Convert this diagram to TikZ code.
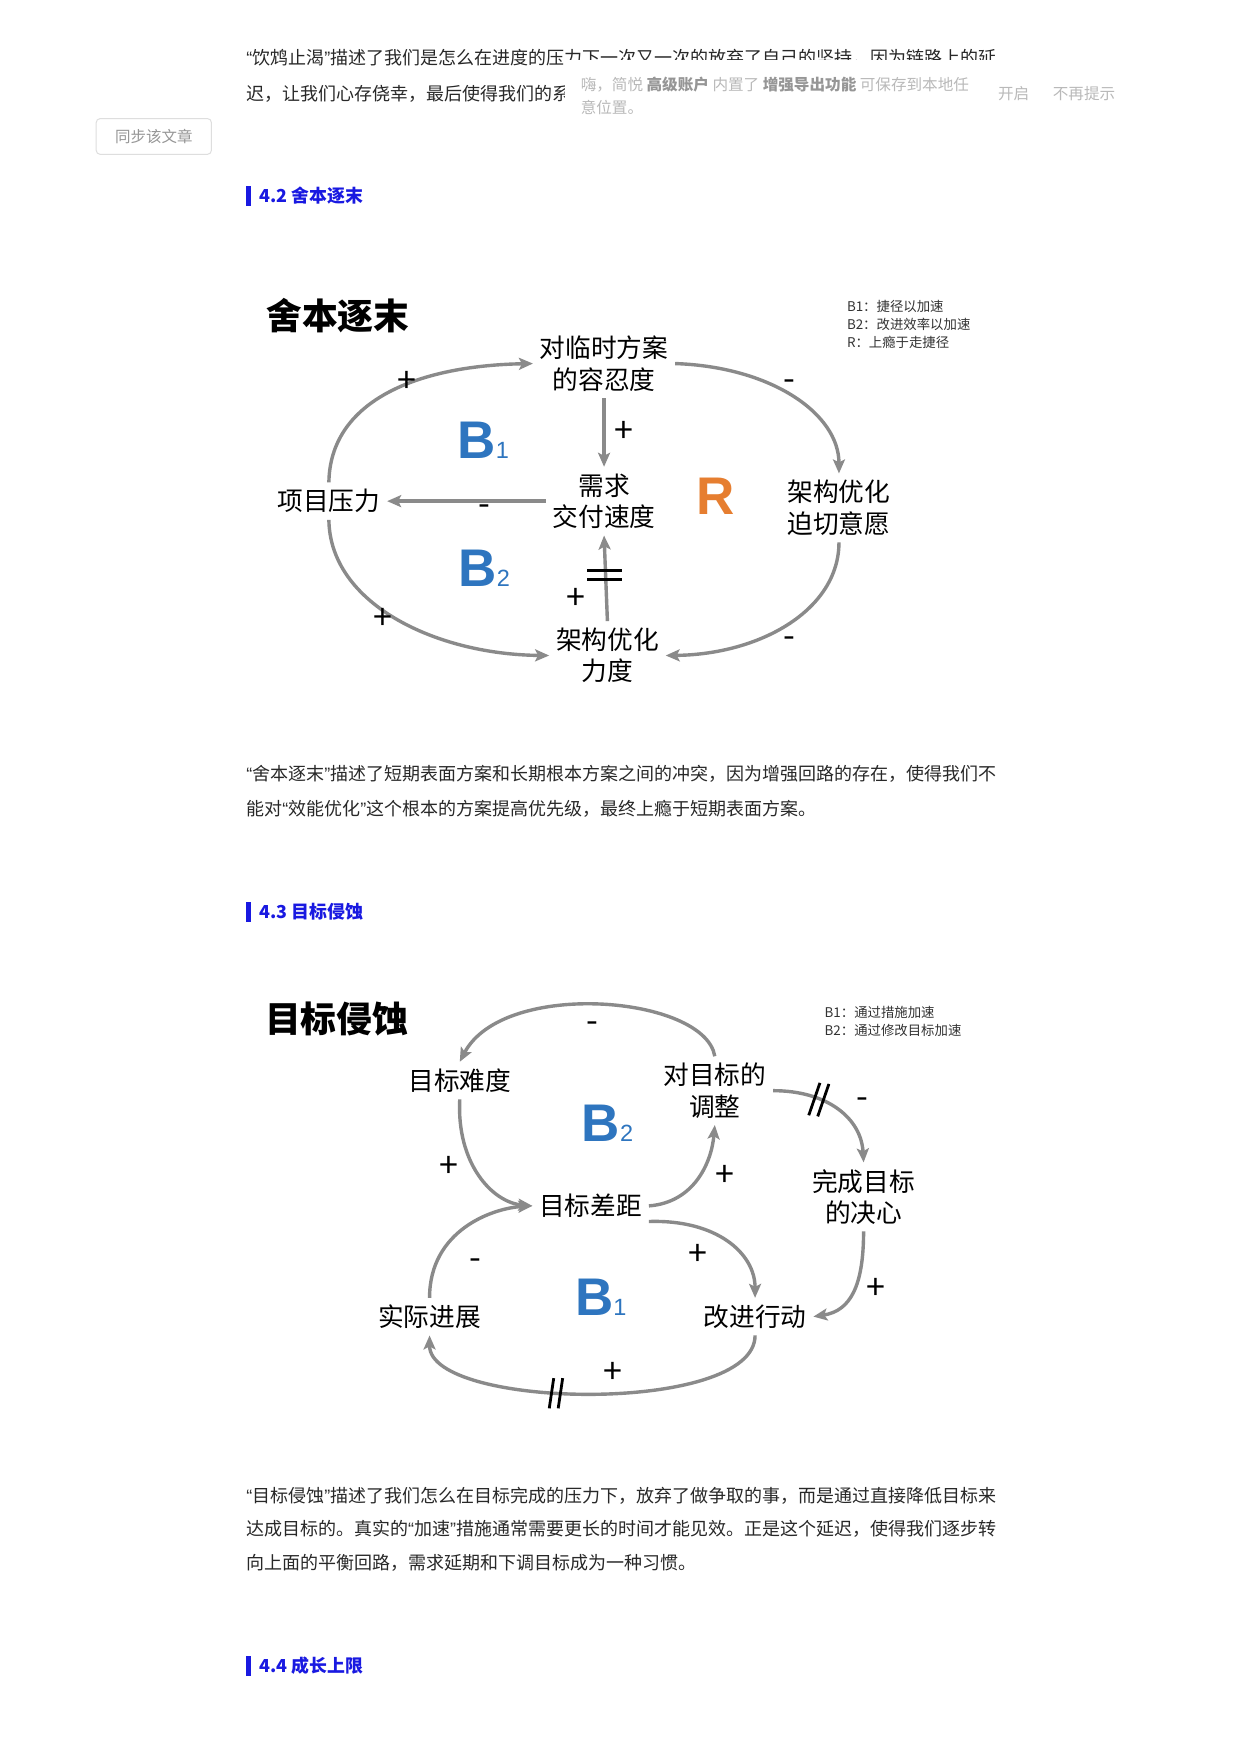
\documentclass[tikz,border=0pt]{standalone}
\usepackage{fontspec}
\setmainfont{Noto Sans CJK SC}
\newfontfamily\latinq{Liberation Sans}
\newfontfamily\loopfont{Liberation Sans}
\usetikzlibrary{arrows.meta}
\definecolor{arrowgray}{RGB}{138,138,138}
\definecolor{headblue}{RGB}{25,25,225}
\definecolor{bblue}{RGB}{46,117,191}
\definecolor{rorange}{RGB}{230,126,48}
\definecolor{bodytext}{RGB}{40,40,40}
\definecolor{poplight}{RGB}{185,185,185}
\definecolor{popdark}{RGB}{150,150,150}
\definecolor{btnborder}{RGB}{222,222,222}
\newcommand\popbold[1]{{\bfseries\color{popdark}#1}}
\newcommand\oq{{\latinq “}}
\newcommand\cq{{\latinq ”}}
\newcommand\loopB[2]{{\loopfont\bfseries\fontsize{53}{53}\selectfont #1}{\loopfont\fontsize{23.5}{24}\selectfont #2}}
\begin{document}
\begin{tikzpicture}[x=1.119pt,y=-1.119pt,
  bodyline/.style={anchor=west,inner sep=0pt,text=bodytext,font=\fontsize{18}{20}\selectfont},
  headline/.style={anchor=west,inner sep=0pt,text=headblue,font=\fontsize{17.9}{20}\selectfont\bfseries},
  popline/.style={anchor=west,inner sep=0pt,text=poplight,font=\fontsize{15.6}{18}\selectfont},
  dtitle/.style={inner sep=0pt,font=\fontsize{35.8}{40}\selectfont\bfseries},
  legendtxt/.style={anchor=west,inner sep=0pt,text=black!80,font=\fontsize{13.4}{15}\selectfont},
  cjklbl/.style={align=center,inner sep=6.7pt,font=\fontsize{25.7}{31.3}\selectfont},
  sgn/.style={inner sep=0pt,font=\fontsize{34}{34}\selectfont},
  bigB/.style={inner sep=0pt,text=bblue},
  conn/.style={draw=arrowgray,line width=3.4pt,-{Stealth[length=14pt,width=12pt,inset=3pt]}},
  delaybar/.style={draw=black,line width=2.8pt},
]
\useasboundingbox[fill=white] (0,0) rectangle (1109,1568);

% ---- top text and popup
\node[bodyline] (t1) at (220,52) {\oq 饮鸩止渴\cq 描述了我们是怎么在进度的压力下一次又一次的放弃了自己的坚持，因为链路上的延};
\node[bodyline] (t2) at (220,84) {迟，让我们心存侥幸，最后使得我们的系};
\fill[white] (505,53.5) rectangle (1040,112);
\node[popline] (pop1) at (519,76) {嗨，简悦 \popbold{高级账户} 内置了 \popbold{增强导出功能} 可保存到本地任};
\node[popline] (pop2) at (519,96) {意位置。};
\node[popline] (pop3) at (892,84) {开启};
\node[popline] (pop4) at (941,84) {不再提示};
\draw[btnborder,rounded corners=4pt,line width=1pt] (86,106) rectangle (189,138);
\node[inner sep=0pt,text=popdark,font=\fontsize{15.5}{18}\selectfont] (btn) at (137.5,122) {同步该文章};

% ---- heading 4.2
\fill[headblue] (220,166) rectangle (224,184);
\node[headline] (h42) at (232,175) {4.2 舍本逐末};

% ---- diagram 1
\node[dtitle] (title1) at (302,282) {舍本逐末};
\node[legendtxt] (lg1a) at (757,274) {B1：捷径以加速};
\node[legendtxt] (lg1b) at (757,290) {B2：改进效率以加速};
\node[legendtxt] (lg1c) at (757,306) {R：上瘾于走捷径};

\node[cjklbl] (tol) at (540,325) {对临时方案\\的容忍度};
\node[cjklbl] (pp) at (294,448) {项目压力};
\node[cjklbl] (spd) at (540,448) {需求\\交付速度};
\node[cjklbl] (urg) at (750,454) {架构优化\\迫切意愿};
\node[cjklbl] (eff) at (543,586) {架构优化\\力度};

\draw[conn] (pp.north) .. controls (295,360) and (370,327) .. (tol.west);
\draw[conn] (tol.east) .. controls (690,328) and (750,370) .. (urg.north);
\draw[conn] (tol.south) -- (spd.north);
\draw[conn] (spd.west) -- (pp.east);
\draw[conn] (pp.south) .. controls (295,540) and (390,585) .. (eff.west);
\draw[conn] (urg.south) .. controls (750,545) and (680,585) .. (eff.east);
\draw[conn] (eff.north) -- (spd.south);
\draw[delaybar] (525,510) -- (556,510);
\draw[delaybar] (525,518) -- (556,518);

\node[sgn] (s1a) at (364,341) {+};
\node[sgn] (s1b) at (706,344) {-};
\node[sgn] (s1c) at (558,386) {+};
\node[sgn] (s1d) at (433,456) {-};
\node[sgn] (s1e) at (342,553) {+};
\node[sgn] (s1f) at (706,574) {-};
\node[sgn] (s1g) at (515,535) {+};

\node[bigB] (lb1) at (432,394) {\loopB{B}{1}};
\node[bigB] (lb2) at (433,508) {\loopB{B}{2}};
\node[inner sep=0pt,text=rorange,font=\loopfont\bfseries\fontsize{53}{53}\selectfont] (lr) at (640,444) {R};

% ---- paragraph 2
\node[bodyline] (p2a) at (220,692) {\oq 舍本逐末\cq 描述了短期表面方案和长期根本方案之间的冲突，因为增强回路的存在，使得我们不};
\node[bodyline] (p2b) at (220,723) {能对\oq 效能优化\cq 这个根本的方案提高优先级，最终上瘾于短期表面方案。};

% ---- heading 4.3
\fill[headblue] (220,806) rectangle (224,824);
\node[headline] (h43) at (232,815) {4.3 目标侵蚀};

% ---- diagram 2
\node[dtitle] (title2) at (301,911) {目标侵蚀};
\node[legendtxt] (lg2a) at (737,905) {B1：通过措施加速};
\node[legendtxt] (lg2b) at (737,921) {B2：通过修改目标加速};

\node[cjklbl] (dif) at (411,966) {目标难度};
\node[cjklbl] (adj) at (639,975) {对目标的\\调整};
\node[cjklbl] (det) at (772,1070) {完成目标\\的决心};
\node[cjklbl] (gap) at (528,1078) {目标差距};
\node[cjklbl] (prg) at (384,1177) {实际进展};
\node[cjklbl] (act) at (675,1177) {改进行动};

\draw[conn] (adj.north) .. controls (630,890) and (450,875) .. (dif.north);
\draw[conn] (dif.south) .. controls (408,1040) and (440,1075) .. (gap.west);
\draw[conn] (gap.east) .. controls (620,1075) and (636,1040) .. (adj.south);
\draw[conn] (adj.east) .. controls (740,975) and (770,1000) .. (det.north);
\draw[conn] (det.south) .. controls (772,1150) and (760,1172) .. (act.east);
\draw[conn] (gap.-15) .. controls (640,1090) and (675,1120) .. (act.north);
\draw[conn] (act.south) .. controls (675,1265) and (384,1260) .. (prg.south);
\draw[conn] (prg.north) .. controls (384,1100) and (440,1080) .. (gap.west);

\draw[delaybar] (723,997) -- (733,968);
\draw[delaybar] (731,998) -- (741,969);
\draw[delaybar] (491,1259) -- (495,1232);
\draw[delaybar] (499,1259) -- (503,1232);

\node[sgn] (s2a) at (530,918) {-};
\node[sgn] (s2b) at (401,1043) {+};
\node[sgn] (s2c) at (648,1051) {+};
\node[sgn] (s2d) at (771,986) {-};
\node[sgn] (s2e) at (783,1152) {+};
\node[sgn] (s2f) at (624,1122) {+};
\node[sgn] (s2g) at (548,1227) {+};
\node[sgn] (s2h) at (425,1130) {-};

\node[bigB] (lb3) at (543,1004) {\loopB{B}{2}};
\node[bigB] (lb4) at (537,1160) {\loopB{B}{1}};

% ---- paragraph 3
\node[bodyline] (p3a) at (220,1337) {\oq 目标侵蚀\cq 描述了我们怎么在目标完成的压力下，放弃了做争取的事，而是通过直接降低目标来};
\node[bodyline] (p3b) at (220,1367) {达成目标的。真实的\oq 加速\cq 措施通常需要更长的时间才能见效。正是这个延迟，使得我们逐步转};
\node[bodyline] (p3c) at (220,1397) {向上面的平衡回路，需求延期和下调目标成为一种习惯。};

% ---- heading 4.4
\fill[headblue] (220,1480) rectangle (224,1498);
\node[headline] (h44) at (232,1489) {4.4 成长上限};
\end{tikzpicture}
\end{document}
